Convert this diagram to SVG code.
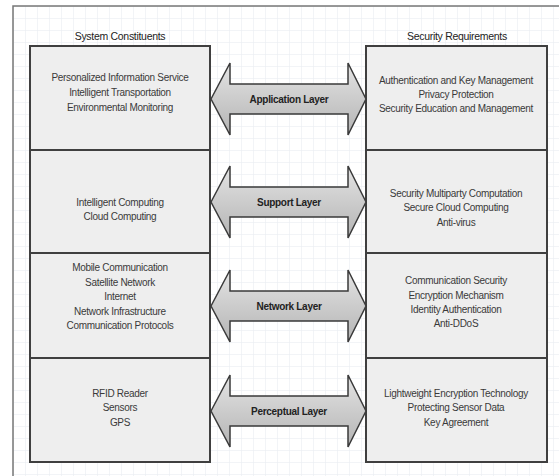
<svg xmlns="http://www.w3.org/2000/svg" xmlns:xlink="http://www.w3.org/1999/xlink" width="559" height="476" viewBox="0 0 559 476">
  <style>
    .box { fill: #eeeeee; stroke: #3f3f3f; stroke-width: 2; }
    .t { font-family: "Liberation Sans", Arial, sans-serif; font-size: 10px; fill: #3a3a3a; text-anchor: middle; letter-spacing: -0.3px; }
    .h { font-family: "Liberation Sans", Arial, sans-serif; font-size: 10.5px; fill: #222; text-anchor: middle; letter-spacing: -0.3px; }
    .lbl { font-family: "Liberation Sans", Arial, sans-serif; font-size: 10px; fill: #222; text-anchor: middle; letter-spacing: -0.3px; font-weight: bold; }
    .arrow { fill: url(#ag); stroke: #3a3a3a; stroke-width: 1.5; stroke-linejoin: miter; }
  </style>
  <defs>
    <pattern id="grid" x="13" y="6" width="12" height="12" patternUnits="userSpaceOnUse">
      <path d="M12 0 L0 0 0 12" fill="none" stroke="#e6eaf0" stroke-width="1"/>
    </pattern>
    <linearGradient id="ag" x1="0" y1="0" x2="0" y2="1">
      <stop offset="0" stop-color="#e4e4e4"/>
      <stop offset="1" stop-color="#b4b4b4"/>
    </linearGradient>
    <path id="arrowShape" class="arrow" d="M211,0 L230,-36 L230,-15 L348,-15 L348,-36 L366,0 L348,36 L348,15 L230,15 L230,36 Z"/>
  </defs>
  <rect x="0" y="0" width="559" height="476" fill="#ffffff"/>
  <rect x="13" y="6" width="560" height="480" fill="url(#grid)" stroke="#777777" stroke-width="1.5"/>

  <text class="h" x="120" y="40">System Constituents</text>
  <text class="h" x="457" y="40">Security Requirements</text>

  <g id="sys-application">
    <rect class="box" x="30" y="46" width="180" height="104"/>
    <text class="t" x="120" y="81">Personalized Information Service</text>
    <text class="t" x="120" y="96">Intelligent Transportation</text>
    <text class="t" x="120" y="111">Environmental Monitoring</text>
  </g>
  <g id="sys-support">
    <rect class="box" x="30" y="150" width="180" height="103"/>
    <text class="t" x="120" y="206">Intelligent Computing</text>
    <text class="t" x="120" y="220">Cloud Computing</text>
  </g>
  <g id="sys-network">
    <rect class="box" x="30" y="253" width="180" height="105"/>
    <text class="t" x="120" y="271">Mobile Communication</text>
    <text class="t" x="120" y="285.5">Satellite Network</text>
    <text class="t" x="120" y="300">Internet</text>
    <text class="t" x="120" y="314.5">Network Infrastructure</text>
    <text class="t" x="120" y="329">Communication Protocols</text>
  </g>
  <g id="sys-perceptual">
    <rect class="box" x="30" y="358" width="180" height="104"/>
    <text class="t" x="120" y="397">RFID Reader</text>
    <text class="t" x="120" y="411">Sensors</text>
    <text class="t" x="120" y="426">GPS</text>
  </g>

  <g id="sec-application">
    <rect class="box" x="366" y="46" width="181" height="104"/>
    <text class="t" x="456" y="84">Authentication and Key Management</text>
    <text class="t" x="456" y="98">Privacy Protection</text>
    <text class="t" x="456" y="112">Security Education and Management</text>
  </g>
  <g id="sec-support">
    <rect class="box" x="366" y="150" width="181" height="103"/>
    <text class="t" x="456" y="197">Security Multiparty Computation</text>
    <text class="t" x="456" y="211">Secure Cloud Computing</text>
    <text class="t" x="456" y="226">Anti-virus</text>
  </g>
  <g id="sec-network">
    <rect class="box" x="366" y="253" width="181" height="105"/>
    <text class="t" x="456" y="284">Communication Security</text>
    <text class="t" x="456" y="299">Encryption Mechanism</text>
    <text class="t" x="456" y="313">Identity Authentication</text>
    <text class="t" x="456" y="327">Anti-DDoS</text>
  </g>
  <g id="sec-perceptual">
    <rect class="box" x="366" y="358" width="181" height="104"/>
    <text class="t" x="456" y="397">Lightweight Encryption Technology</text>
    <text class="t" x="456" y="411">Protecting Sensor Data</text>
    <text class="t" x="456" y="426">Key Agreement</text>
  </g>

  <g id="connectors">
    <g id="arrow-application">
      <use xlink:href="#arrowShape" href="#arrowShape" y="99"/>
      <text class="lbl" x="289" y="103">Application Layer</text>
    </g>
    <g id="arrow-support">
      <use xlink:href="#arrowShape" href="#arrowShape" y="202"/>
      <text class="lbl" x="289" y="206">Support Layer</text>
    </g>
    <g id="arrow-network">
      <use xlink:href="#arrowShape" href="#arrowShape" y="306"/>
      <text class="lbl" x="289" y="310">Network Layer</text>
    </g>
    <g id="arrow-perceptual">
      <use xlink:href="#arrowShape" href="#arrowShape" y="411"/>
      <text class="lbl" x="289" y="415">Perceptual Layer</text>
    </g>
  </g>
</svg>
